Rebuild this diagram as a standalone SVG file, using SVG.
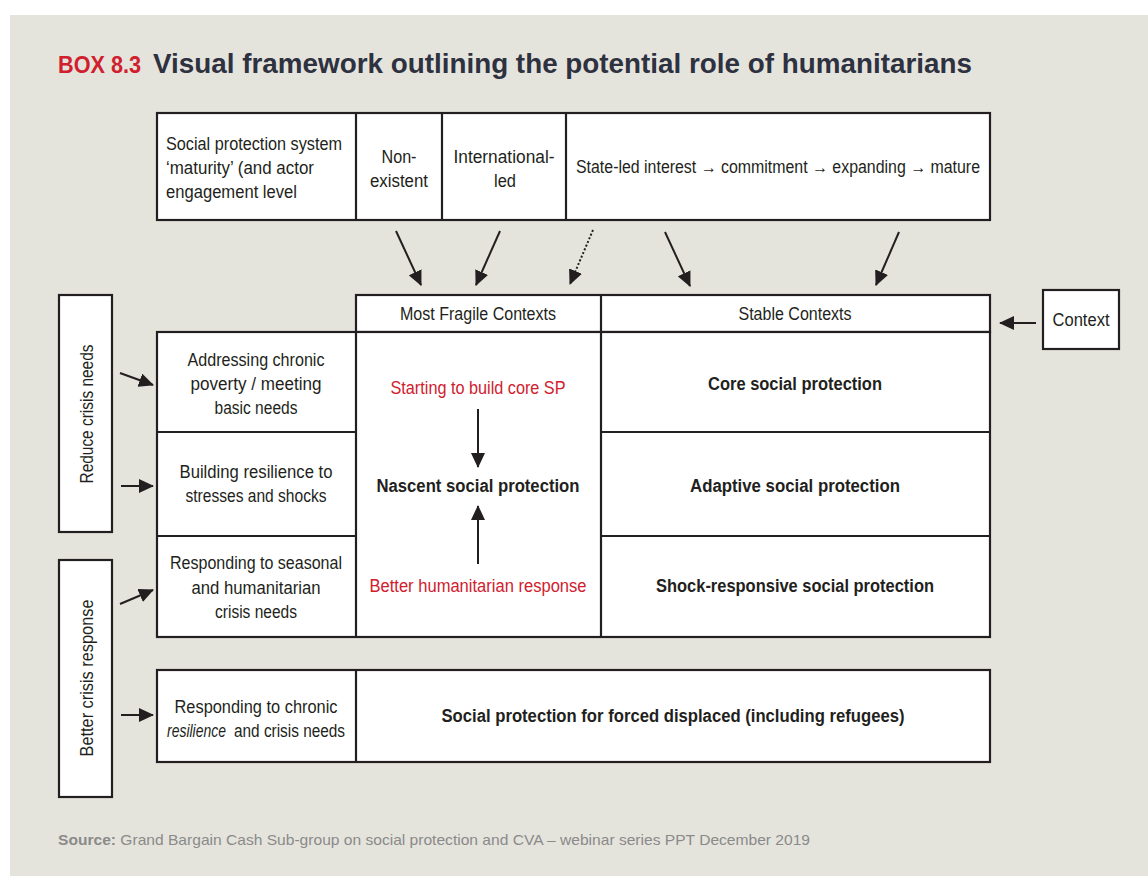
<svg xmlns="http://www.w3.org/2000/svg" width="1148" height="876" viewBox="0 0 1148 876">
<defs>
<style>
.box{fill:#fff;stroke:#231f20;stroke-width:2.2}
.ln{stroke:#231f20;stroke-width:2.2;fill:none}
.t{font-family:"Liberation Sans",Arial,sans-serif;font-size:17.5px;fill:#231f20}
.c{text-anchor:middle}
.b{font-weight:bold}
.red{fill:#d0202e}
.arr{stroke:#231f20;stroke-width:2;fill:none;marker-end:url(#ah)}
</style>
<marker id="ah" markerUnits="userSpaceOnUse" markerWidth="16" markerHeight="14" refX="14" refY="7" orient="auto">
<path d="M0,0 L15,7 L0,14 Z" fill="#231f20"/>
</marker>
</defs>
<rect x="0" y="0" width="1148" height="876" fill="#fff"/>
<rect x="10" y="15" width="1138" height="861" fill="#e5e4dc"/>

<g id="title">
<text x="58" y="73" font-family="'Liberation Sans',Arial,sans-serif" font-size="24" font-weight="bold" fill="#d0202e" textLength="83" lengthAdjust="spacingAndGlyphs">BOX 8.3</text>
<text x="153" y="73" font-family="'Liberation Sans',Arial,sans-serif" font-size="27" font-weight="bold" fill="#2d3140" textLength="819" lengthAdjust="spacingAndGlyphs">Visual framework outlining the potential role of humanitarians</text>
</g>

<g id="maturity-table">
<rect class="box" x="157" y="113" width="833" height="107"/>
<line class="ln" x1="356" y1="113" x2="356" y2="220"/>
<line class="ln" x1="442" y1="113" x2="442" y2="220"/>
<line class="ln" x1="566" y1="113" x2="566" y2="220"/>
<text class="t" x="166" y="150" textLength="176" lengthAdjust="spacingAndGlyphs">Social protection system</text>
<text class="t" x="166" y="174" textLength="148" lengthAdjust="spacingAndGlyphs">‘maturity’ (and actor</text>
<text class="t" x="166" y="198" textLength="131" lengthAdjust="spacingAndGlyphs">engagement level</text>
<text class="t c" x="399" y="163" textLength="35" lengthAdjust="spacingAndGlyphs">Non-</text>
<text class="t c" x="399" y="187" textLength="58" lengthAdjust="spacingAndGlyphs">existent</text>
<text class="t c" x="504" y="163" textLength="101" lengthAdjust="spacingAndGlyphs">International-</text>
<text class="t c" x="505" y="187" textLength="22" lengthAdjust="spacingAndGlyphs">led</text>
<text class="t c" x="778" y="173" textLength="404" lengthAdjust="spacingAndGlyphs">State-led interest → commitment → expanding → mature</text>
</g>

<g id="context-header">
<rect class="box" x="356" y="295" width="634" height="37"/>
<line class="ln" x1="601" y1="295" x2="601" y2="332"/>
<text class="t c" x="478" y="320" textLength="156" lengthAdjust="spacingAndGlyphs">Most Fragile Contexts</text>
<text class="t c" x="795" y="320" textLength="113" lengthAdjust="spacingAndGlyphs">Stable Contexts</text>
</g>

<g id="context-box">
<rect class="box" x="1043" y="290" width="76" height="59"/>
<text class="t c" x="1081" y="326" textLength="57" lengthAdjust="spacingAndGlyphs">Context</text>
</g>

<g id="main-grid">
<rect class="box" x="157" y="332" width="833" height="305"/>
<line class="ln" x1="356" y1="332" x2="356" y2="637"/>
<line class="ln" x1="601" y1="332" x2="601" y2="637"/>
<line class="ln" x1="157" y1="432" x2="356" y2="432"/>
<line class="ln" x1="157" y1="536" x2="356" y2="536"/>
<line class="ln" x1="601" y1="432" x2="990" y2="432"/>
<line class="ln" x1="601" y1="536" x2="990" y2="536"/>
</g>

<g id="row-chronic">
<text class="t c" x="256" y="366" textLength="137" lengthAdjust="spacingAndGlyphs">Addressing chronic</text>
<text class="t c" x="256" y="390" textLength="131" lengthAdjust="spacingAndGlyphs">poverty / meeting</text>
<text class="t c" x="256" y="414" textLength="83" lengthAdjust="spacingAndGlyphs">basic needs</text>
</g>
<g id="row-resilience">
<text class="t c" x="256" y="478" textLength="153" lengthAdjust="spacingAndGlyphs">Building resilience to</text>
<text class="t c" x="256" y="502" textLength="141" lengthAdjust="spacingAndGlyphs">stresses and shocks</text>
</g>
<g id="row-seasonal">
<text class="t c" x="256" y="569" textLength="172" lengthAdjust="spacingAndGlyphs">Responding to seasonal</text>
<text class="t c" x="256" y="594" textLength="129" lengthAdjust="spacingAndGlyphs">and humanitarian</text>
<text class="t c" x="256" y="618" textLength="82" lengthAdjust="spacingAndGlyphs">crisis needs</text>
</g>

<g id="fragile-column">
<text class="t c red" x="478" y="394" textLength="175" lengthAdjust="spacingAndGlyphs">Starting to build core SP</text>
<text class="t c b" x="478" y="492" textLength="203" lengthAdjust="spacingAndGlyphs">Nascent social protection</text>
<text class="t c red" x="478" y="592" textLength="217" lengthAdjust="spacingAndGlyphs">Better humanitarian response</text>
</g>

<g id="stable-core"><text class="t c b" x="795" y="390" textLength="174" lengthAdjust="spacingAndGlyphs">Core social protection</text></g>
<g id="stable-adaptive"><text class="t c b" x="795" y="492" textLength="210" lengthAdjust="spacingAndGlyphs">Adaptive social protection</text></g>
<g id="stable-shock"><text class="t c b" x="795" y="592" textLength="278" lengthAdjust="spacingAndGlyphs">Shock-responsive social protection</text></g>

<g id="displaced-row">
<rect class="box" x="157" y="670" width="833" height="92"/>
<line class="ln" x1="356" y1="670" x2="356" y2="762"/>
<text class="t c" x="256" y="713" textLength="163" lengthAdjust="spacingAndGlyphs">Responding to chronic</text>
<text class="t" x="167" y="737" font-style="italic" textLength="59" lengthAdjust="spacingAndGlyphs">resilience</text>
<text class="t" x="234" y="737" textLength="111" lengthAdjust="spacingAndGlyphs">and crisis needs</text>
<text class="t c b" x="673" y="722" textLength="463" lengthAdjust="spacingAndGlyphs">Social protection for forced displaced (including refugees)</text>
</g>

<g id="reduce-crisis">
<rect class="box" x="59" y="295" width="53" height="237"/>
<text class="t c" transform="translate(93,414) rotate(-90)" textLength="139" lengthAdjust="spacingAndGlyphs">Reduce crisis needs</text>
</g>
<g id="better-crisis">
<rect class="box" x="59" y="560" width="53" height="237"/>
<text class="t c" transform="translate(93,678) rotate(-90)" textLength="157" lengthAdjust="spacingAndGlyphs">Better crisis response</text>
</g>

<g id="connectors">
<line class="arr" x1="396" y1="231" x2="421" y2="285"/>
<line class="arr" x1="500" y1="231" x2="476" y2="285"/>
<line class="arr" x1="593" y1="230" x2="570" y2="284" stroke-dasharray="2,2"/>
<line class="arr" x1="665" y1="232" x2="690" y2="286"/>
<line class="arr" x1="899" y1="232" x2="876" y2="285"/>
<line class="arr" x1="1036" y1="323" x2="1000" y2="323"/>
<line class="arr" x1="478" y1="409" x2="478" y2="467"/>
<line class="arr" x1="478" y1="564" x2="478" y2="506"/>
<line class="arr" x1="120" y1="373" x2="153" y2="385"/>
<line class="arr" x1="121" y1="486" x2="153" y2="486"/>
<line class="arr" x1="120" y1="604" x2="153" y2="590"/>
<line class="arr" x1="121" y1="715" x2="153" y2="715"/>
</g>

<g id="source">
<text x="58" y="845" font-family="'Liberation Sans',Arial,sans-serif" font-size="15" fill="#8a8a8a" textLength="752" lengthAdjust="spacingAndGlyphs"><tspan font-weight="bold">Source:</tspan> Grand Bargain Cash Sub-group on social protection and CVA – webinar series PPT December 2019</text>
</g>
</svg>
